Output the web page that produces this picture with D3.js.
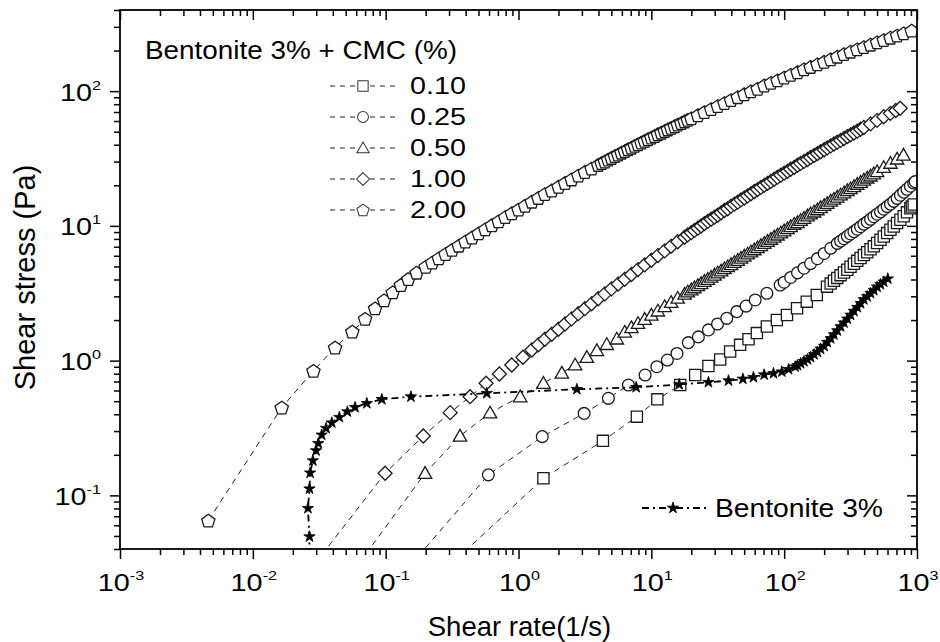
<!DOCTYPE html>
<html>
<head>
<meta charset="utf-8">
<style>
  html, body { margin: 0; padding: 0; background: #fff; }
  svg { display: block; font-family: "Liberation Sans", Arial, sans-serif; }
  .ticks line { stroke: #000; stroke-width: 1.5px; }
  .frame { fill: none; stroke: #000; stroke-width: 1.8px; }
</style>
</head>
<body>
<svg width="940" height="642"></svg>
<script src="https://cdn.jsdelivr.net/npm/d3@7/dist/d3.min.js"></script>
<script>

// tick decades
var rateDecades = [1e-3, 1e-2, 1e-1, 1e0, 1e1, 1e2, 1e3];
var rateExp = ["-3", "-2", "-1", "0", "1", "2", "3"];
var stressDecades = [1e-1, 1e0, 1e1, 1e2];
var stressExp = ["-1", "0", "1", "2"];

var cmcLevels = ["0.10", "0.25", "0.50", "1.00", "2.00"];

// [shear rate (1/s), shear stress (Pa)]
var cmc010 = [[0.195,0.02],[1.54,0.134],[4.32,0.254],[7.78,0.384],[11.1,0.516],[16.5,0.659],[21.4,0.782],[26.9,0.912],[33.0,1.02],[39.2,1.17],[46.6,1.31],[53.9,1.44],[62.3,1.60],[74.1,1.79],[88.1,2.00],[105,2.18],[125,2.45],[148,2.74],[176,3.07],[210,3.54],
  [224,3.73],[237,3.92],[251,4.11],[266,4.31],[282,4.51],[299,4.73],[316,4.97],[335,5.23],[355,5.50],[376,5.78],[398,6.07],[422,6.38],[447,6.70],[473,7.05],[501,7.46],[531,7.89],[562,8.35],[596,8.84],[631,9.36],[668,9.90],[708,10.5],[750,11.1],[794,11.8],[841,12.6],[891,13.5],[915,13.9],[944,14.4]];

var cmc025 = [[0.107,0.02],[0.593,0.142],[1.51,0.273],[3.12,0.406],[4.75,0.525],[6.72,0.659],[8.98,0.782],[11.0,0.901],[13.2,1.01],[15.6,1.13],[19.0,1.36],[22.6,1.50],[26.9,1.69],[31.5,1.87],[37.0,2.06],[44.0,2.31],[51.7,2.54],[60.5,2.82],[74.1,3.16],[93.3,3.64],
  [100,3.82],[112,4.14],[126,4.48],[141,4.85],[158,5.25],[178,5.71],[200,6.24],[224,6.82],[251,7.42],[266,7.72],[282,8.03],[299,8.36],[316,8.71],[335,9.06],[355,9.45],[376,9.86],[398,10.3],[422,10.7],[447,11.2],[473,11.7],[501,12.2],[531,12.7],[562,13.3],[596,13.9],[631,14.5],[668,15.2],[708,16.0],[750,16.9],[794,17.8],[841,18.7],[891,19.7],[944,20.8],[969,21.3]];

var cmc050 = [[0.0451,0.02],[0.198,0.146],[0.363,0.276],[0.611,0.41],[1.03,0.54],[1.54,0.68],[2.12,0.81],[2.67,0.93],[3.27,1.06],[3.89,1.19],[4.62,1.32],[5.50,1.45],
  [6.31,1.63],[7.08,1.76],[7.94,1.89],[8.91,2.03],[10.0,2.18],[11.2,2.34],[12.6,2.52],[14.1,2.71],[15.8,2.91],[17.8,3.12],
  [18.8,3.24],[20.0,3.36],[21.1,3.48],[22.4,3.61],[23.7,3.74],[25.1,3.88],[26.6,4.02],[28.2,4.17],[29.9,4.32],[31.6,4.48],[33.5,4.64],[35.5,4.82],[37.6,4.99],[39.8,5.17],[42.2,5.36],[44.7,5.56],[47.3,5.77],[50.1,5.98],[53.1,6.20],[56.2,6.42],[59.6,6.66],[63.1,6.90],[66.8,7.16],[70.8,7.42],[75.0,7.69],[79.4,7.97],[84.1,8.27],[89.1,8.57],[94.4,8.88],[100,9.21],[106,9.55],[112,9.90],[119,10.3],[126,10.6],[133,11.0],[141,11.4],[150,11.9],[158,12.3],[168,12.7],[178,13.2],[188,13.7],[200,14.2],[211,14.7],[224,15.3],[237,15.8],[251,16.4],[266,17.0],[282,17.6],[299,18.3],[316,18.9],[335,19.6],[355,20.4],[376,21.1],[398,21.9],[422,22.7],[447,23.5],[473,24.4],[501,25.3],[562,27.2],[631,29.2],[708,31.4],[791,33.6]];

var cmc100 = [[0.0207,0.02],[0.099,0.146],[0.192,0.276],[0.306,0.411],[0.432,0.540],[0.570,0.679],[0.718,0.796],[0.890,0.928],[1.08,1.06],[1.26,1.20],
  [1.41,1.31],[1.58,1.44],[1.78,1.57],[2.00,1.71],[2.24,1.87],[2.51,2.04],[2.82,2.23],[3.16,2.43],[3.55,2.64],[3.98,2.88],[4.47,3.13],[5.01,3.41],[5.62,3.70],[6.31,4.02],[7.08,4.36],[7.94,4.74],[8.91,5.13],[10.0,5.56],[11.2,6.02],[12.6,6.52],[14.1,7.05],[15.8,7.63],[17.8,8.24],
  [18.8,8.57],[20.0,8.90],[21.1,9.25],[22.4,9.61],[23.7,9.98],[25.1,10.4],[26.6,10.8],[28.2,11.2],[29.9,11.6],[31.6,12.0],[33.5,12.5],[35.5,13.0],[37.6,13.4],[39.8,14.0],[42.2,14.5],[44.7,15.0],[47.3,15.6],[50.1,16.1],[53.1,16.7],[56.2,17.3],[59.6,18.0],[63.1,18.6],[66.8,19.3],[70.8,20.0],[75.0,20.7],[79.4,21.4],[84.1,22.2],[89.1,23.0],[94.4,23.8],[100,24.6],[106,25.4],[112,26.3],[119,27.2],[126,28.2],[133,29.1],[141,30.1],[150,31.1],[158,32.2],[168,33.3],[178,34.4],[188,35.5],[200,36.7],[211,37.9],[224,39.2],[237,40.5],[251,41.8],[266,43.1],[282,44.5],[299,46.0],[316,47.4],[335,48.9],[355,50.5],[376,52.1],[398,53.7],[447,57.1],[501,60.7],[562,64.5],[631,68.4],[692,71.8],[747,74.6]];

var cmc200 = [[0.00462,0.0649],[0.0165,0.448],[0.0286,0.840],[0.0416,1.25],[0.0561,1.64],[0.0700,2.04],[0.0832,2.44],[0.0973,2.80],[0.113,3.21],[0.130,3.64],[0.148,4.03],[0.171,4.49],
  [0.200,4.96],[0.224,5.34],[0.251,5.74],[0.282,6.17],[0.316,6.63],[0.355,7.12],[0.398,7.64],[0.447,8.19],[0.501,8.79],[0.562,9.42],[0.631,10.1],[0.708,10.8],[0.794,11.6],[0.891,12.4],[1.00,13.2],[1.12,14.1],[1.26,15.1],[1.41,16.1],[1.58,17.2],[1.78,18.3],[2.00,19.5],[2.24,20.8],[2.51,22.1],[2.82,23.6],[3.16,25.1],[3.55,26.6],[3.98,28.3],
  [4.22,29.2],[4.47,30.0],[4.73,31.0],[5.01,31.9],[5.31,32.9],[5.62,33.8],[5.96,34.9],[6.31,35.9],[6.68,37.0],[7.08,38.0],[7.50,39.2],[7.94,40.3],[8.41,41.5],[8.91,42.7],[9.44,43.9],[10.0,45.2],[10.6,46.4],[11.2,47.8],[11.9,49.1],[12.6,50.5],[13.3,51.9],[14.1,53.4],[15.0,54.8],[15.8,56.4],[16.8,57.9],[17.8,59.5],[18.8,61.1],[20.0,62.8],
  [22.4,66.2],[25.1,69.8],[28.2,73.5],[31.6,77.4],[35.5,81.5],[39.8,85.7],[44.7,90.1],[50.1,94.7],[56.2,99.5],[63.1,104],[70.8,110],[79.4,115],[89.1,120],[100,126],[112,132],[126,138],[141,145],[158,151],[178,158],[200,165],[224,172],[251,180],[282,188],[316,196],[355,204],[398,212],[447,221],[501,230],[562,239],[631,249],[708,258],[794,268],[912,281]];

var bentonite = [[0.0264,0.02],[0.0267,0.0494],[0.0260,0.0802],[0.0267,0.112],[0.0270,0.147],[0.0283,0.181],[0.0299,0.215],[0.0311,0.243],[0.0330,0.281],[0.0356,0.315],[0.0393,0.346],[0.0448,0.380],[0.0515,0.418],[0.0588,0.450],[0.0721,0.482],[0.0935,0.516],[0.155,0.540],[0.577,0.572],[2.75,0.613],[7.69,0.634],[16.2,0.665],[26.9,0.691],[38.1,0.710],[48.9,0.731],[58.7,0.752],[70.7,0.786],[83.1,0.805],[96.1,0.827],[108,0.862],[121,0.901],
  [126,0.923],[133,0.955],[141,0.987],[150,1.02],[158,1.06],[168,1.11],[178,1.16],[188,1.22],[200,1.28],[211,1.37],[224,1.46],[237,1.56],[251,1.67],[266,1.79],[282,1.91],[299,2.04],[316,2.18],[335,2.33],[355,2.49],[376,2.66],[398,2.84],[422,2.99],[447,3.16],[473,3.33],[501,3.52],[531,3.68],[562,3.84],[603,4.05]];

var svg = d3.select("svg");
var pL = 120, pR = 917, pT = 10, pB = 549;

var x = d3.scaleLog().domain([1e-3, 1e3]).range([pL, pR]);
var y = d3.scaleLog().domain([0.04, 400]).range([pB, pT]);

function minors(lo, hi) {
  var out = [];
  for (var e = -3; e <= 3; e++) {
    for (var k = 2; k <= 9; k++) {
      var v = k * Math.pow(10, e);
      if (v >= lo * 0.999 && v <= hi * 1.001) out.push(v);
    }
  }
  return out;
}
var rateMinor = minors(1e-3, 1e3);
var stressMinor = minors(0.04, 400);

function axis(gen, scale, vals, size, tr) {
  svg.append("g").attr("class", "ticks").attr("transform", tr)
    .call(gen(scale).tickValues(vals).tickSize(size).tickSizeOuter(0).tickFormat(""))
    .call(function(g) { g.select(".domain").remove(); });
}
// bottom & left ticks point out, top & right point in
axis(d3.axisBottom, x, rateDecades, 10, "translate(0," + pB + ")");
axis(d3.axisBottom, x, rateMinor, 6, "translate(0," + pB + ")");
axis(d3.axisBottom, x, rateDecades, 10, "translate(0," + pT + ")");
axis(d3.axisBottom, x, rateMinor, 6, "translate(0," + pT + ")");
axis(d3.axisLeft, y, stressDecades, 10, "translate(" + pL + ",0)");
axis(d3.axisLeft, y, stressMinor, 6, "translate(" + pL + ",0)");
axis(d3.axisLeft, y, stressDecades, 10, "translate(" + pR + ",0)");
axis(d3.axisLeft, y, stressMinor, 6, "translate(" + pR + ",0)");

// tick labels 10^n
function powLabel(tx, ty, anchor, exp) {
  var t = svg.append("text")
    .attr("transform", "translate(" + tx + "," + ty + ") scale(1.2,1)")
    .attr("text-anchor", anchor)
    .style("font-size", "24px");
  t.append("tspan").text("10");
  t.append("tspan").attr("dy", -11).style("font-size", "13.5px").text(exp);
}
rateDecades.forEach(function(v, i) { powLabel(x(v) + 1, 591, "middle", rateExp[i]); });
stressDecades.forEach(function(v, i) { powLabel(101, y(v) + 9.5, "end", stressExp[i]); });

// axis titles
svg.append("text")
  .attr("x", (pL + pR) / 2 + 1).attr("y", 636)
  .attr("text-anchor", "middle")
  .style("font-size", "27.5px")
  .text("Shear rate(1/s)");

svg.append("text")
  .attr("transform", "translate(35," + ((pT + pB) / 2 - 2) + ") rotate(-90)")
  .attr("text-anchor", "middle")
  .style("font-size", "29px")
  .text("Shear stress (Pa)");

// marker shapes
function shapePath(shape) {
  switch (shape) {
    case "square": return "M-5.6,-5.6H5.6V5.6H-5.6Z";
    case "circle": return d3.symbol(d3.symbolCircle, Math.PI * 5.9 * 5.9)();
    case "triangle": return "M0,-6.6L6.7,5.1L-6.7,5.1Z";
    case "diamond": return "M0,-7L7,0L0,7L-7,0Z";
    case "pentagon":
      var p = [];
      for (var i = 0; i < 5; i++) {
        var a = -Math.PI / 2 + i * 2 * Math.PI / 5;
        p.push([7 * Math.cos(a), 7 * Math.sin(a) + 0.6]);
      }
      return "M" + p.join("L") + "Z";
    case "star": return d3.symbol(d3.symbolStar, 40)();
  }
}

svg.append("clipPath").attr("id", "plot")
  .append("rect").attr("x", pL).attr("y", pT)
  .attr("width", pR - pL).attr("height", pB - pT);

var series = [
  { data: cmc010, shape: "square" },
  { data: cmc025, shape: "circle" },
  { data: cmc050, shape: "triangle" },
  { data: cmc100, shape: "diamond" },
  { data: cmc200, shape: "pentagon" }
];

var line = d3.line()
  .x(function(d) { return x(d[0]); })
  .y(function(d) { return y(d[1]); });

var plot = svg.append("g").attr("clip-path", "url(#plot)");

series.forEach(function(s) {
  plot.append("path")
    .datum(s.data)
    .attr("d", line)
    .attr("fill", "none")
    .attr("stroke", "#222")
    .attr("stroke-width", 1)
    .attr("stroke-dasharray", "6,5");
  plot.append("g").selectAll("path")
    .data(s.data)
    .enter().append("path")
      .attr("transform", function(d) { return "translate(" + x(d[0]) + "," + y(d[1]) + ")"; })
      .attr("d", shapePath(s.shape))
      .attr("fill", "#fff")
      .attr("stroke", "#1a1a1a")
      .attr("stroke-width", 1.3);
});

plot.append("path")
  .datum(bentonite)
  .attr("d", line)
  .attr("fill", "none")
  .attr("stroke", "#000")
  .attr("stroke-width", 1.8)
  .attr("stroke-dasharray", "7,4,2,4");
plot.append("g").selectAll("path")
  .data(bentonite)
  .enter().append("path")
    .attr("transform", function(d) { return "translate(" + x(d[0]) + "," + y(d[1]) + ")"; })
    .attr("d", shapePath("star"))
    .attr("fill", "#000")
    .attr("stroke", "#000")
    .attr("stroke-width", 0.8);

// frame
svg.append("rect").attr("class", "frame")
  .attr("x", pL).attr("y", pT)
  .attr("width", pR - pL).attr("height", pB - pT);

// legend, CMC series
svg.append("text")
  .attr("x", 145).attr("y", 59)
  .attr("textLength", 312).attr("lengthAdjust", "spacingAndGlyphs")
  .style("font-size", "25px")
  .text("Bentonite 3% + CMC (%)");

var legend = svg.append("g").selectAll("g")
  .data(series)
  .enter().append("g")
    .attr("transform", function(d, i) { return "translate(0," + (94 + 31 * i) + ")"; });

legend.append("line")
  .attr("x1", 330).attr("x2", 396).attr("y1", -8).attr("y2", -8)
  .attr("stroke", "#222").attr("stroke-width", 1.1)
  .attr("stroke-dasharray", "5,5");
legend.append("path")
  .attr("transform", "translate(363,-8) scale(0.92)")
  .attr("d", function(d) { return shapePath(d.shape); })
  .attr("fill", "#fff").attr("stroke", "#333").attr("stroke-width", 1.1);
legend.append("text")
  .attr("x", 410).attr("y", 0)
  .attr("textLength", 56).attr("lengthAdjust", "spacingAndGlyphs")
  .style("font-size", "23.5px")
  .text(function(d, i) { return cmcLevels[i]; });

// legend, bentonite
var lb = svg.append("g").attr("transform", "translate(0,508)");
lb.append("line")
  .attr("x1", 642).attr("x2", 706).attr("y1", 0).attr("y2", 0)
  .attr("stroke", "#000").attr("stroke-width", 1.8)
  .attr("stroke-dasharray", "7,4,2,4");
lb.append("path")
  .attr("transform", "translate(673,0)")
  .attr("d", shapePath("star"))
  .attr("fill", "#000").attr("stroke", "#000").attr("stroke-width", 0.8);
lb.append("text")
  .attr("x", 715).attr("y", 8.7)
  .attr("textLength", 168).attr("lengthAdjust", "spacingAndGlyphs")
  .style("font-size", "25.6px")
  .text("Bentonite 3%");

</script>
</body>
</html>
